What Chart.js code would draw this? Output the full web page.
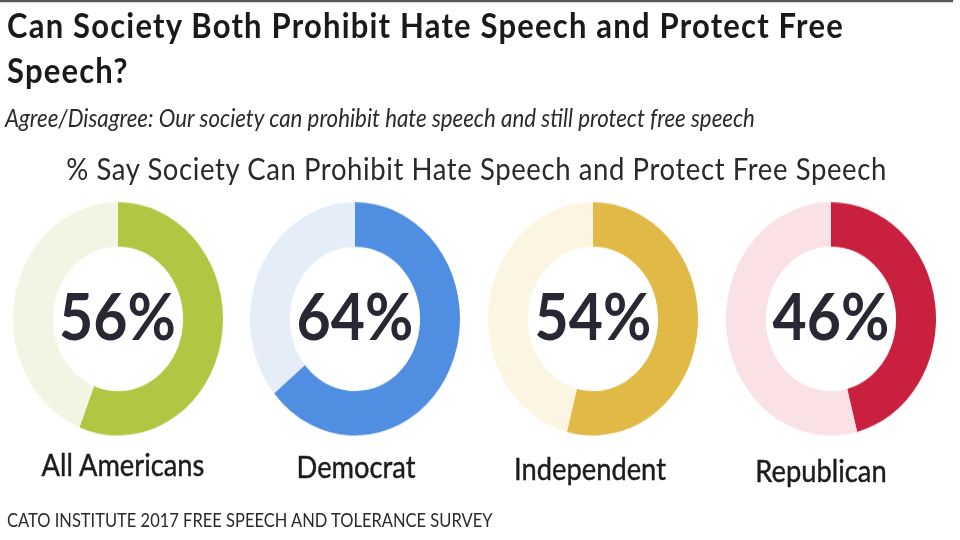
<!DOCTYPE html>
<html lang="en">
<head>
  <meta charset="UTF-8">
  <title>Can Society Both Prohibit Hate Speech and Protect Free Speech?</title>
  <script src="https://cdn.jsdelivr.net/npm/chart.js"></script>
  <style>
    html, body {
      margin: 0;
      width: 960px;
      height: 540px;
      background: #fff;
    }

    body {
      font-family: Lato, 'Open Sans', sans-serif;
      color: #1f1f1f;
    }

    /* the source picture is stretched a little vertically */
    #page {
      position: absolute;
      left: 0; top: 0;
      width: 960px;
      height: 486px;
      transform: scale(1, 1.111);
      transform-origin: 0 0;
    }

    #rule {
      position: absolute;
      left: 0; top: 0;
      width: 953px; height: 2px;
      background: #555;
    }

    #title {
      position: absolute;
      left: 7px; top: 2px;
      width: 900px;
      font-size: 31px;
      letter-spacing: 1.2px;
      line-height: 40.5px;
      font-weight: bold;
      color: #1a1a1a;
    }

    #subtitle {
      position: absolute;
      left: 5px; top: 95px;
      font-size: 22.3px;
      line-height: 1;
      font-style: italic;
      color: #2a2a2a;
    }

    #heading {
      position: absolute;
      left: 0; top: 138px;
      width: 953px;
      text-align: center;
      font-size: 27.5px;
      letter-spacing: 0.6px;
      line-height: 1;
      color: #2a2a2a;
    }

    canvas {
      position: absolute;
      top: 182px;
    }

    .pct {
      position: absolute;
      top: 253.5px;
      width: 210px;
      text-align: center;
      font-size: 59px;
      line-height: 1;
      font-weight: bold;
      color: #272833;
    }

    .lbl {
      position: absolute;
      width: 240px;
      text-align: center;
      font-size: 27.3px;
      line-height: 1;
      color: #1c1c1c;
      -webkit-text-stroke: 0.4px #1c1c1c;
    }

    #footer {
      position: absolute;
      left: 7px; top: 460px;
      font-size: 16.5px;
      line-height: 1;
      color: #2a2a2a;
    }
  </style>
</head>
<body>

  <div id="page">
    <div id="rule"></div>
    <div id="title">Can Society Both Prohibit Hate Speech and Protect Free Speech?</div>
    <div id="subtitle">Agree/Disagree: Our society can prohibit hate speech and still protect free speech</div>
    <div id="heading">% Say Society Can Prohibit Hate Speech and Protect Free Speech</div>
    <div id="footer">CATO INSTITUTE 2017 FREE SPEECH AND TOLERANCE SURVEY</div>
  </div>

  <script>
    const groups = ['All Americans', 'Democrat', 'Independent', 'Republican'];
    const agree = [56, 64, 54, 46];
    const mainColors = ['#b1c744', '#4f8ee0', '#e0b946', '#c8203e'];
    const lightColors = ['#f2f5e3', '#e5edf9', '#fcf5e1', '#f9e1e6'];

    // layout: donut centres, label centres and small label drops, in page px
    const centers = [117.5, 355, 593, 831];
    const labelCenters = [123, 356, 590, 821];
    const labelDrop = [0, 1.8, 3.6, 6.3];
    const radius = 105;
    const page = document.getElementById('page');

    groups.forEach((name, i) => {
      const canvas = document.createElement('canvas');
      canvas.width = radius * 2;
      canvas.height = radius * 2;
      canvas.style.left = (centers[i] - radius) + 'px';
      page.appendChild(canvas);

      new Chart(canvas.getContext('2d'), {
        type: 'doughnut',
        data: {
          labels: ['Agree', 'Other'],
          datasets: [{
            data: [agree[i], 100 - agree[i]],
            backgroundColor: [mainColors[i], lightColors[i]],
            borderWidth: 0,
            hoverOffset: 0,
            offset: 0
          }]
        },
        options: {
          responsive: false,
          animation: false,
          events: [],
          cutout: '62%',
          rotation: 0,
          layout: { padding: 0 },
          plugins: {
            legend: { display: false },
            tooltip: { enabled: false }
          }
        }
      });

      const pct = document.createElement('div');
      pct.className = 'pct';
      pct.style.left = (centers[i] - radius) + 'px';
      pct.textContent = agree[i] + '%';
      page.appendChild(pct);

      const lbl = document.createElement('div');
      lbl.className = 'lbl';
      lbl.style.left = (labelCenters[i] - 120) + 'px';
      lbl.style.top = (404 + labelDrop[i]) + 'px';
      lbl.textContent = name;
      page.appendChild(lbl);
    });
  </script>

</body>
</html>
